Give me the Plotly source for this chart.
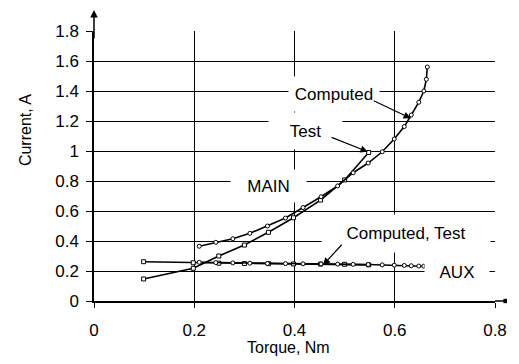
import plotly.graph_objects as go

# MAIN, computed (circles)
main_comp_t = [0.21, 0.243, 0.277, 0.311, 0.346, 0.382, 0.417, 0.453, 0.486, 0.517,
               0.547, 0.575, 0.599, 0.619, 0.633, 0.648, 0.658, 0.663, 0.665]
main_comp_i = [0.365, 0.391, 0.415, 0.451, 0.50, 0.553, 0.623, 0.695, 0.767, 0.855,
               0.92, 0.995, 1.08, 1.163, 1.24, 1.325, 1.40, 1.478, 1.56]
# MAIN, test (squares)
main_test_t = [0.099, 0.198, 0.249, 0.30, 0.348, 0.398, 0.452, 0.50, 0.548]
main_test_i = [0.147, 0.218, 0.30, 0.373, 0.458, 0.555, 0.673, 0.807, 0.99]
# AUX, computed (circles)
aux_comp_t = main_comp_t
aux_comp_i = [0.258, 0.256, 0.254, 0.252, 0.250, 0.249, 0.248, 0.247, 0.246, 0.244,
              0.243, 0.241, 0.239, 0.237, 0.235, 0.233, 0.232, 0.231, 0.230]
# AUX, test (squares)
aux_test_t = main_test_t
aux_test_i = [0.262, 0.255, 0.252, 0.250, 0.249, 0.247, 0.246, 0.245, 0.241]

x_ticks = [0, 0.2, 0.4, 0.6, 0.8]
x_labels = ["0", "0.2", "0.4", "0.6", "0.8"]
y_ticks = [0, 0.2, 0.4, 0.6, 0.8, 1.0, 1.2, 1.4, 1.6, 1.8]
y_labels = ["0", "0.2", "0.4", "0.6", "0.8", "1", "1.2", "1.4", "1.6", "1.8"]

FONT = "Liberation Sans, Arial, sans-serif"

fig = go.Figure()

def add_series(t, i, symbol):
    fig.add_trace(go.Scatter(
        x=t, y=i, mode="lines+markers",
        line=dict(color="black", width=1.6),
        marker=dict(symbol=symbol, size=4, color="white",
                    line=dict(color="black", width=1)),
        showlegend=False, cliponaxis=False))

add_series(main_test_t, main_test_i, "square")
add_series(main_comp_t, main_comp_i, "circle")
add_series(aux_test_t, aux_test_i, "square")
add_series(aux_comp_t, aux_comp_i, "circle")

labels = [
    # text, x, y, box width, box height, pad
    ("Computed", 0.478, 1.38, 78, 22, 6),
    ("Test", 0.422, 1.133, 59, 22, 7),
    ("MAIN", 0.348, 0.767, 65, 22, 5),
    ("Computed, Test", 0.623, 0.447, 154, 23, 7),
    ("AUX", 0.724, 0.193, 60, 22, 2),
]
annotations = []
for txt, x, y, w, h, p in labels:
    annotations.append(dict(
        text=txt, x=x, y=y, xref="x", yref="y", showarrow=False,
        font=dict(family=FONT, size=17, color="black"),
        bgcolor="white", width=w, height=h, borderpad=p))

arrows = [
    # tail (ax, ay) -> head (x, y)
    (0.555, 1.34, 0.632, 1.218),
    (0.471, 1.095, 0.546, 0.995),
    (0.497, 0.385, 0.457, 0.24),
]
for ax_, ay_, x, y in arrows:
    annotations.append(dict(
        text="", x=x, y=y, ax=ax_, ay=ay_, xref="x", yref="y",
        axref="x", ayref="y", showarrow=True, arrowhead=2, arrowsize=1.2,
        arrowwidth=1.2, arrowcolor="black", standoff=0, startstandoff=0))

# y-axis arrow above the plot
annotations.append(dict(
    text="", x=0, y=1.078, xref="paper", yref="paper", ax=0, ay=30,
    showarrow=True, arrowhead=2, arrowsize=1, arrowwidth=1.5,
    arrowcolor="black", standoff=0))

# axis titles
annotations.append(dict(
    text="Torque, Nm", x=0.485, y=-0.172, xref="paper", yref="paper",
    xanchor="center", yanchor="middle",
    showarrow=False, font=dict(family=FONT, size=16, color="black")))
annotations.append(dict(
    text="Current, A", x=-0.172, y=0.633, xref="paper", yref="paper",
    xanchor="center", yanchor="middle",
    showarrow=False, textangle=-90,
    font=dict(family=FONT, size=16, color="black")))

shapes = [
    dict(type="line", xref="paper", yref="paper", x0=1, x1=1.027, y0=0, y1=0,
         line=dict(color="black", width=1.5)),
    dict(type="rect", xref="paper", yref="paper", x0=1.021, x1=1.03,
         y0=-0.008, y1=0.008, fillcolor="black", line=dict(width=0)),
]

fig.update_layout(
    width=519, height=364,
    margin=dict(l=94, r=13, t=31, b=63),
    paper_bgcolor="white", plot_bgcolor="white",
    font=dict(family=FONT, size=17, color="black"),
    annotations=annotations, shapes=shapes,
    xaxis=dict(range=[0, 0.8], tickvals=x_ticks, ticktext=x_labels,
               showgrid=True, gridcolor="black", gridwidth=1,
               showline=True, linecolor="black", linewidth=1.5,
               ticks="outside", ticklen=5, tickcolor="black",
               ticklabelstandoff=8,
               zeroline=False, tickfont=dict(size=17)),
    yaxis=dict(range=[0, 1.8], tickvals=y_ticks, ticktext=y_labels,
               showgrid=True, gridcolor="black", gridwidth=1,
               showline=True, linecolor="black", linewidth=1.5,
               ticks="outside", ticklen=6, tickcolor="black",
               ticklabelstandoff=4,
               zeroline=False, tickfont=dict(size=17)),
)

fig.write_html("out.html")
